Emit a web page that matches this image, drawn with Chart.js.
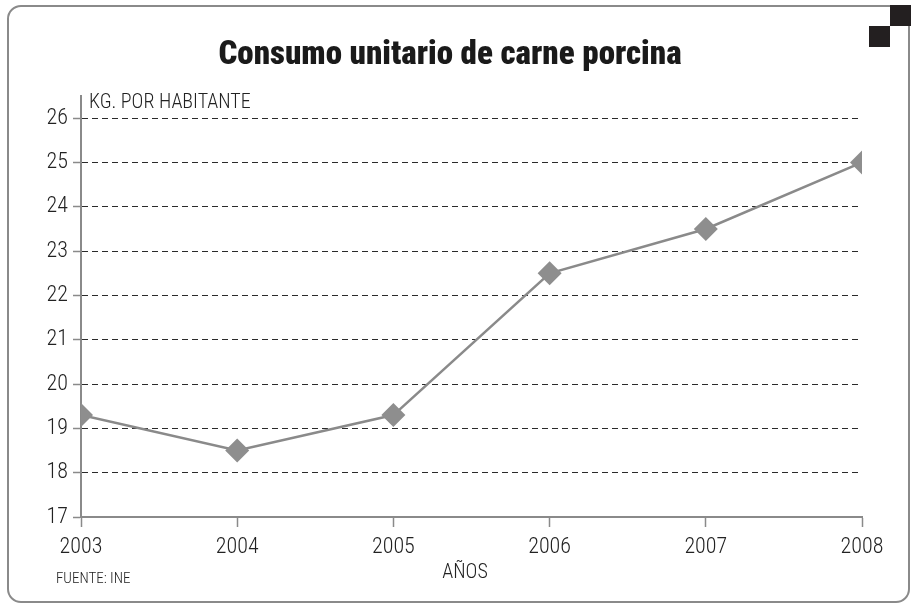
<!DOCTYPE html>
<html>
<head>
<meta charset="utf-8">
<script src="https://cdn.jsdelivr.net/npm/chart.js@4"></script>
<style>
  html, body { margin: 0; padding: 0; background: #fff; }
  #wrap { width: 916px; height: 608px; position: relative; }
</style>
</head>
<body>
<div id="wrap"><canvas id="chart" width="916" height="608"></canvas></div>
<script>
const years = [2003, 2004, 2005, 2006, 2007, 2008];
const consumo = [19.3, 18.5, 19.3, 22.5, 23.5, 25];
const yTicks = [17, 18, 19, 20, 21, 22, 23, 24, 25, 26];

const titleText = 'Consumo unitario de carne porcina';
const unitText = 'KG. POR HABITANTE';
const xTitle = 'AÑOS';
const sourceText = 'FUENTE: INE';

const narrow = "'Liberation Sans Narrow', 'Roboto Condensed', 'DejaVu Sans Condensed', sans-serif";

// frame, corner squares and loose texts
const decor = {
    id: 'decor',
    beforeDraw(chart) {
        const ctx = chart.ctx;
        ctx.save();
        ctx.strokeStyle = '#8a8a8a';
        ctx.lineWidth = 2;
        const l = 8, t = 6, r = 909, b = 602, rad = 13;
        ctx.beginPath();
        ctx.moveTo(890, t);
        ctx.lineTo(l + rad, t);
        ctx.arcTo(l, t, l, t + rad, rad);
        ctx.lineTo(l, b - rad);
        ctx.arcTo(l, b, l + rad, b, rad);
        ctx.lineTo(r - rad, b);
        ctx.arcTo(r, b, r, b - rad, rad);
        ctx.lineTo(r, 25);
        ctx.stroke();
        ctx.fillStyle = '#231f20';
        ctx.fillRect(890, 5, 21, 21);
        ctx.fillRect(869, 26, 21, 21);
        ctx.restore();
    },
    afterDraw(chart) {
        const ctx = chart.ctx;
        ctx.save();
        ctx.fillStyle = '#1a1a1a';
        ctx.textBaseline = 'middle';
        ctx.textAlign = 'center';
        ctx.font = "900 33px " + narrow;
        ctx.fillText(titleText, 450, 56);
        ctx.fillStyle = '#222';
        ctx.textAlign = 'left';
        ctx.font = "300 20px " + narrow;
        ctx.fillText(unitText, 89, 103);
        ctx.textAlign = 'center';
        ctx.font = "300 20px " + narrow;
        ctx.fillText(xTitle, 465, 573);
        ctx.textAlign = 'left';
        ctx.font = "300 15px " + narrow;
        ctx.fillText(sourceText, 56, 579);
        ctx.restore();
    }
};

const ctx = document.getElementById('chart').getContext('2d');
new Chart(ctx, {
    type: 'line',
    data: {
        datasets: [{
            data: years.map((y, i) => ({ x: y, y: consumo[i] })),
            borderColor: '#8a8a8a',
            borderWidth: 2.5,
            pointStyle: 'rectRot',
            pointRadius: 12,
            pointBackgroundColor: '#8e8e8e',
            pointBorderColor: '#8e8e8e',
            pointBorderWidth: 0,
            tension: 0
        }]
    },
    options: {
        responsive: false,
        animation: false,
        layout: { padding: { left: 0, right: 54, top: 96, bottom: 0 } },
        plugins: {
            legend: { display: false },
            tooltip: { enabled: false }
        },
        scales: {
            x: {
                type: 'linear',
                min: 2003,
                max: 2008,
                afterFit: s => { s.height = 91; },
                afterBuildTicks: s => { s.ticks = years.map(v => ({ value: v })); },
                ticks: {
                    color: '#222',
                    font: { family: narrow, size: 22, weight: 300 },
                    padding: 7,
                    maxRotation: 0,
                    callback: v => String(v)
                },
                grid: {
                    drawOnChartArea: false,
                    drawTicks: true,
                    tickLength: 10,
                    tickColor: '#8a8a8a',
                    tickWidth: 1.5
                },
                border: { color: '#8a8a8a', width: 2 }
            },
            y: {
                min: 17,
                max: 26.5,
                afterFit: s => { s.width = 81; },
                afterBuildTicks: s => { s.ticks = yTicks.map(v => ({ value: v })); },
                ticks: {
                    color: '#222',
                    font: { family: narrow, size: 22, weight: 300 },
                    padding: 5
                },
                grid: {
                    color: ctx => ctx.tick && ctx.tick.value === 17 ? 'rgba(0,0,0,0)' : '#2a2a2a',
                    lineWidth: 1,
                    tickLength: 8,
                    tickColor: '#8a8a8a',
                    tickWidth: 1.5,
                    tickBorderDash: [1, 0]
                },
                border: { color: '#8a8a8a', width: 2, dash: [6, 4] }
            }
        }
    },
    plugins: [decor]
});
</script>
</body>
</html>
